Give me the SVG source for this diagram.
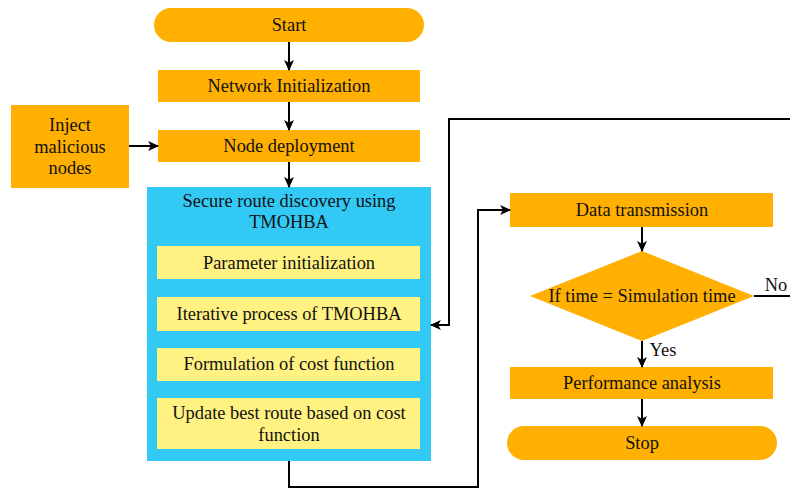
<svg xmlns="http://www.w3.org/2000/svg" width="790" height="491" viewBox="0 0 790 491">
<style>
  .term{fill:#FFB000;}
  .proc{fill:#FFB000;}
  .group{fill:#33C9F5;}
  .step{fill:#FFF283;}
  text{font-family:'Liberation Serif',Tinos,'Times New Roman',Times,'Noto Serif','DejaVu Serif',serif;font-size:18.4px;fill:#111;text-anchor:middle;}
  .edge{fill:none;stroke:#000;stroke-width:2;marker-end:url(#arrow);}
  .line{fill:none;stroke:#000;stroke-width:2;}
</style>
<defs>
  <marker id="arrow" viewBox="0 0 10 10" refX="9" refY="5" markerWidth="11" markerHeight="11" markerUnits="userSpaceOnUse" orient="auto">
    <path d="M0,0.5 L10,5 L0,9.5 L2.5,5 Z" fill="#000"/>
  </marker>
</defs>
<rect width="790" height="491" fill="#fff"/>

<g id="start">
  <rect class="term" x="154" y="8" width="270" height="34" rx="17"/>
  <text x="289" y="31">Start</text>
</g>
<g id="network-init">
  <rect class="proc" x="158" y="70" width="262" height="32"/>
  <text x="289" y="92">Network Initialization</text>
</g>
<g id="node-deploy">
  <rect class="proc" x="158" y="130" width="262" height="32"/>
  <text x="289" y="152">Node deployment</text>
</g>
<g id="inject">
  <rect class="proc" x="11" y="105" width="118" height="83"/>
  <text x="70" y="131">Inject</text>
  <text x="70" y="153">malicious</text>
  <text x="70" y="174">nodes</text>
</g>
<g id="secure-route">
  <rect class="group" x="147" y="187" width="284" height="274"/>
  <text x="289" y="207">Secure route discovery using</text>
  <text x="289" y="228">TMOHBA</text>
</g>
<g id="param-init">
  <rect class="step" x="157" y="246" width="263" height="33"/>
  <text x="289" y="269">Parameter initialization</text>
</g>
<g id="iterative">
  <rect class="step" x="157" y="297" width="263" height="34"/>
  <text x="289" y="320">Iterative process of TMOHBA</text>
</g>
<g id="cost">
  <rect class="step" x="157" y="348" width="263" height="33"/>
  <text x="289" y="370">Formulation of cost function</text>
</g>
<g id="update">
  <rect class="step" x="157" y="398" width="263" height="51"/>
  <text x="289" y="419">Update best route based on cost</text>
  <text x="289" y="441">function</text>
</g>
<g id="data-tx">
  <rect class="proc" x="510" y="193" width="263" height="34"/>
  <text x="642" y="216">Data transmission</text>
</g>
<g id="decision">
  <polygon class="proc" points="642,251 754,296 642,341 530,296"/>
  <text x="642" y="302">If time = Simulation time</text>
</g>
<g id="perf">
  <rect class="proc" x="510" y="367" width="263" height="32"/>
  <text x="642" y="389">Performance analysis</text>
</g>
<g id="stop">
  <rect class="term" x="507" y="426" width="270" height="34" rx="17"/>
  <text x="642" y="449">Stop</text>
</g>

<g id="connectors">
  <line class="edge" x1="289" y1="42" x2="289" y2="70"/>
  <line class="edge" x1="289" y1="102" x2="289" y2="130"/>
  <line class="edge" x1="289" y1="162" x2="289" y2="187"/>
  <line class="edge" x1="129" y1="146" x2="158" y2="146"/>
  <path class="edge" d="M289,461 V487 H478 V210 H510"/>
  <line class="edge" x1="642" y1="227" x2="642" y2="251"/>
  <line class="edge" x1="642" y1="341" x2="642" y2="367"/>
  <line class="edge" x1="642" y1="399" x2="642" y2="426"/>
  <line class="line" x1="754" y1="296" x2="790" y2="296"/>
  <path class="edge" d="M790,119 H449 V325 H431"/>
  <text x="776" y="291">No</text>
  <text x="663" y="356">Yes</text>
</g>
</svg>
